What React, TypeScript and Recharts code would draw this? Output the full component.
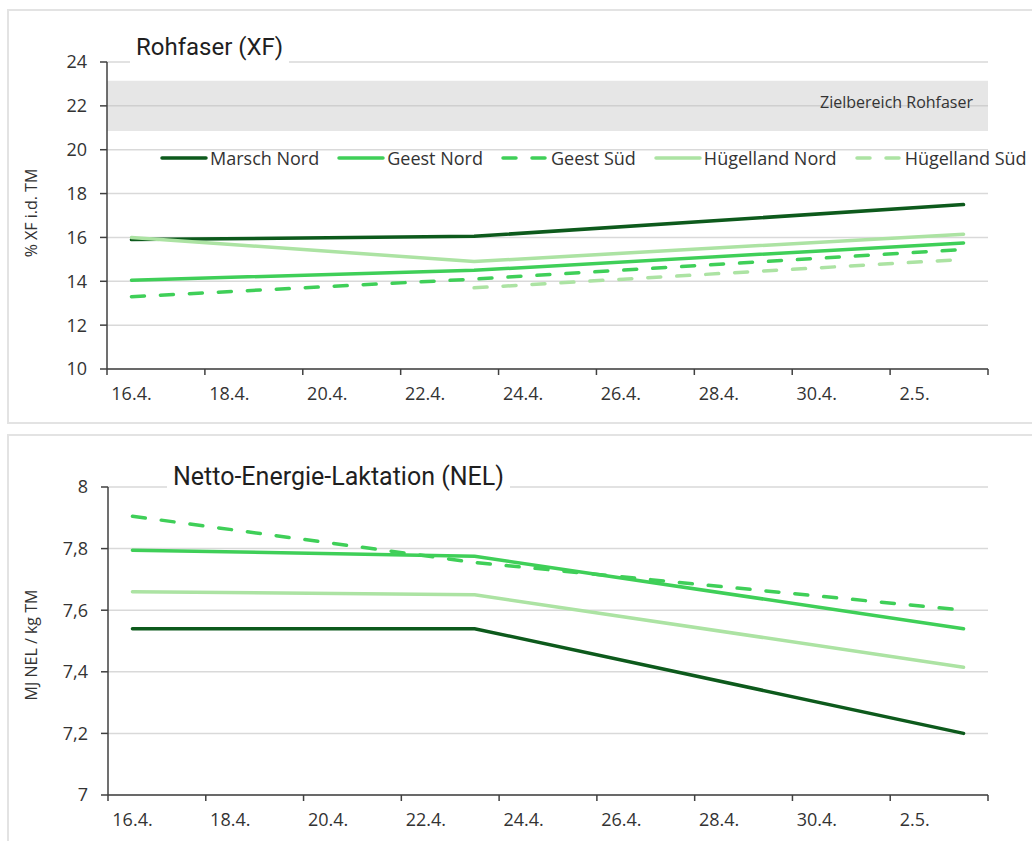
import React from "react";
import { LineChart, Line, XAxis, YAxis, CartesianGrid, ReferenceArea } from "recharts";

// sampling dates and axis labels
const dates = ["16.4.", "23.4.", "3.5."];
const xTickLabels = ["16.4.", "18.4.", "20.4.", "22.4.", "24.4.", "26.4.", "28.4.", "30.4.", "2.5."];
const xAxisEnd = "4.5.";

const seriesNames = ["Marsch Nord", "Geest Nord", "Geest Süd", "Hügelland Nord", "Hügelland Süd"];

// Rohfaser (% XF i.d. TM)
const xfMarschNord = [15.9, 16.05, 17.5];
const xfGeestNord = [14.05, 14.5, 15.75];
const xfGeestSued = [13.3, 14.1, 15.45];
const xfHuegellandNord = [16.0, 14.9, 16.15];
const xfHuegellandSued = [null, 13.7, 15.0];
const xfTicks = [10, 12, 14, 16, 18, 20, 22, 24];
const zielbereichRohfaser = [20.85, 23.15];

// NEL (MJ NEL / kg TM)
const nelMarschNord = [7.54, 7.54, 7.2];
const nelGeestNord = [7.795, 7.775, 7.54];
const nelGeestSued = [7.905, 7.755, 7.6];
const nelHuegellandNord = [7.66, 7.65, 7.415];
const nelTicks = [7, 7.2, 7.4, 7.6, 7.8, 8];

const FONT = "'Open Sans', sans-serif";
const TITLE_FONT = "Roboto, sans-serif";
const styles = [
  { color: "#0d5a1c", dash: undefined },
  { color: "#3fcf58", dash: undefined },
  { color: "#3fcf58", dash: "13 16" },
  { color: "#ace3a3", dash: undefined },
  { color: "#ace3a3", dash: "13 16" },
];

const dayOf = (s: string) => {
  const [d, m] = s.split(".").map(Number);
  const [d0, m0] = xTickLabels[0].split(".").map(Number);
  return (Date.UTC(2025, m - 1, d) - Date.UTC(2025, m0 - 1, d0)) / 864e5;
};

const axisTicks = [...xTickLabels, xAxisEnd].map(dayOf);
const labelByDay = new Map(xTickLabels.map((l) => [dayOf(l), l]));

const buildRows = (series: (number | null)[][]) =>
  dates.map((d, i) => {
    const row: Record<string, number | null> = { x: dayOf(d) + 0.5 };
    series.forEach((s, k) => (row["s" + k] = s[i]));
    return row;
  });

const xfData = buildRows([xfMarschNord, xfGeestNord, xfGeestSued, xfHuegellandNord, xfHuegellandSued]);
const nelData = buildRows([nelMarschNord, nelGeestNord, nelGeestSued, nelHuegellandNord]);

const DateTick = (props: any) => {
  const { x, y, payload } = props;
  const label = labelByDay.get(payload.value);
  if (!label) return null;
  return (
    <text x={x + 24.5} y={y + 23} textAnchor="middle" fontSize={18} fill="#333" fontFamily={FONT}>
      {label}
    </text>
  );
};

const axisStroke = { stroke: "#404040", strokeWidth: 1.5 };

function Panel({ top, height }: { top: number; height: number }) {
  return (
    <div
      style={{
        position: "absolute",
        left: 7,
        top,
        width: 1030,
        height,
        border: "2px solid #e3e3e3",
        background: "#fff",
        boxSizing: "border-box",
      }}
    />
  );
}

function Title({ text, left, top, size }: { text: string; left: number; top: number; size: number }) {
  return (
    <div
      style={{
        position: "absolute",
        left,
        top,
        height: 32,
        lineHeight: "32px",
        padding: "0 6px",
        background: "#fff",
        fontSize: size,
        color: "#1f1f1f",
        fontFamily: TITLE_FONT,
        zIndex: 2,
        whiteSpace: "nowrap",
      }}
    >
      {text}
    </div>
  );
}

function YLabel({ text, cy }: { text: string; cy: number }) {
  return (
    <div
      style={{
        position: "absolute",
        left: 31,
        top: cy,
        transform: "translate(-50%, -50%) rotate(-90deg)",
        fontSize: 16,
        color: "#333",
        fontFamily: FONT,
        whiteSpace: "nowrap",
        zIndex: 2,
      }}
    >
      {text}
    </div>
  );
}

function LegendRow() {
  return (
    <div
      style={{
        position: "absolute",
        left: 160,
        top: 146,
        display: "flex",
        alignItems: "center",
        fontFamily: FONT,
        fontSize: 18,
        color: "#333",
        whiteSpace: "nowrap",
        zIndex: 2,
      }}
    >
      {seriesNames.map((name, i) => (
        <div key={name} style={{ display: "flex", alignItems: "center", marginRight: 18 }}>
          <svg width={48} height={24}>
            <line
              x1={2}
              y1={12}
              x2={46}
              y2={12}
              stroke={styles[i].color}
              strokeWidth={3.5}
              strokeLinecap="round"
              strokeDasharray={styles[i].dash}
            />
          </svg>
          <span style={{ marginLeft: 2 }}>{name}</span>
        </div>
      ))}
    </div>
  );
}

export default function App() {
  return (
    <div
      style={{
        position: "absolute",
        left: 0,
        top: 0,
        width: 1032,
        height: 841,
        overflow: "hidden",
        background: "#fff",
        fontFamily: FONT,
      }}
    >
      <Panel top={9} height={415} />
      <Panel top={434} height={420} />

      <div style={{ position: "absolute", left: 0, top: 0, zIndex: 1 }}>
        <LineChart width={1032} height={423} data={xfData} margin={{ top: 62, right: 44, bottom: 24, left: 47 }}>
          <CartesianGrid vertical={false} stroke="#d9d9d9" strokeWidth={1.5} />
          <ReferenceArea
            y1={zielbereichRohfaser[0]}
            y2={zielbereichRohfaser[1]}
            fill="#c0c0c0"
            fillOpacity={0.4}
            stroke="none"
            label={(p: any) => {
              const vb = p.viewBox;
              return (
                <text
                  x={vb.x + vb.width - 15}
                  y={vb.y + vb.height / 2 - 4}
                  textAnchor="end"
                  dominantBaseline="central"
                  fontSize={16}
                  fill="#333"
                  fontFamily={FONT}
                >
                  Zielbereich Rohfaser
                </text>
              );
            }}
          />
          <XAxis
            dataKey="x"
            type="number"
            domain={[axisTicks[0], axisTicks[axisTicks.length - 1]]}
            ticks={axisTicks}
            interval={0}
            height={30}
            tickSize={6}
            axisLine={axisStroke}
            tickLine={axisStroke}
            tick={<DateTick />}
          />
          <YAxis
            domain={[xfTicks[0], xfTicks[xfTicks.length - 1]]}
            ticks={xfTicks}
            width={60}
            tickSize={7}
            tickMargin={13}
            axisLine={axisStroke}
            tickLine={axisStroke}
            tick={{ fontSize: 18, fill: "#333", fontFamily: FONT }}
          />
          {seriesNames.map((name, i) => (
            <Line
              key={name}
              dataKey={"s" + i}
              name={name}
              stroke={styles[i].color}
              strokeWidth={3.5}
              strokeDasharray={styles[i].dash}
              strokeLinecap="round"
              dot={false}
              activeDot={false}
              isAnimationActive={false}
            />
          ))}
        </LineChart>
      </div>

      <div style={{ position: "absolute", left: 0, top: 423, zIndex: 1 }}>
        <LineChart width={1032} height={418} data={nelData} margin={{ top: 64, right: 44, bottom: 16, left: 48 }}>
          <CartesianGrid vertical={false} stroke="#d9d9d9" strokeWidth={1.5} />
          <XAxis
            dataKey="x"
            type="number"
            domain={[axisTicks[0], axisTicks[axisTicks.length - 1]]}
            ticks={axisTicks}
            interval={0}
            height={30}
            tickSize={6}
            axisLine={axisStroke}
            tickLine={axisStroke}
            tick={<DateTick />}
          />
          <YAxis
            domain={[nelTicks[0], nelTicks[nelTicks.length - 1]]}
            ticks={nelTicks}
            width={60}
            tickSize={7}
            tickMargin={13}
            axisLine={axisStroke}
            tickLine={axisStroke}
            tickFormatter={(v: number) => String(v).replace(".", ",")}
            tick={{ fontSize: 18, fill: "#333", fontFamily: FONT }}
          />
          {seriesNames.slice(0, 4).map((name, i) => (
            <Line
              key={name}
              dataKey={"s" + i}
              name={name}
              stroke={styles[i].color}
              strokeWidth={3.5}
              strokeDasharray={styles[i].dash}
              strokeLinecap="round"
              dot={false}
              activeDot={false}
              isAnimationActive={false}
            />
          ))}
        </LineChart>
      </div>

      <Title text="Rohfaser (XF)" left={130} top={31} size={24} />
      <Title text="Netto-Energie-Laktation (NEL)" left={167} top={461} size={25} />
      <YLabel text="% XF i.d. TM" cy={213} />
      <YLabel text="MJ NEL / kg TM" cy={645} />
      <LegendRow />
    </div>
  );
}
